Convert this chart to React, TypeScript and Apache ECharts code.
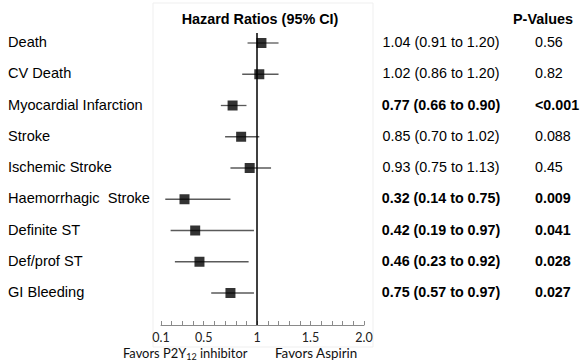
import React, { useEffect, useRef } from "react";
import * as echarts from "echarts";

const categories = [
  "Death",
  "CV Death",
  "Myocardial Infarction",
  "Stroke",
  "Ischemic Stroke",
  "Haemorrhagic  Stroke",
  "Definite ST",
  "Def/prof ST",
  "GI Bleeding",
];
const hazardRatios = [1.04, 1.02, 0.77, 0.85, 0.93, 0.32, 0.42, 0.46, 0.75];
const ciLower = [0.91, 0.86, 0.66, 0.7, 0.75, 0.14, 0.19, 0.23, 0.57];
const ciUpper = [1.2, 1.2, 0.9, 1.02, 1.13, 0.75, 0.97, 0.92, 0.97];
const pValues = ["0.56", "0.82", "<0.001", "0.088", "0.45", "0.009", "0.041", "0.028", "0.027"];
const significant = [false, false, true, false, false, true, true, true, true];
const tickLabels: Record<number, string> = { 1: "0.1", 5: "0.5", 10: "1", 15: "1.5", 20: "2.0" };

const hrStrings = hazardRatios.map(
  (v, i) => `${v.toFixed(2)} (${ciLower[i].toFixed(2)} to ${ciUpper[i].toFixed(2)})`
);

const SANS = "'Liberation Sans', Arial, sans-serif";
const CAL = "Lato, 'Open Sans', sans-serif";

export default function App() {
  const ref = useRef<HTMLDivElement>(null);
  useEffect(() => {
    if (!ref.current) return;
    const chart = echarts.init(ref.current, null, { renderer: "svg" });
    const GL = 161;
    const GR = 222;
    const option: any = {
      animation: false,
      backgroundColor: "#ffffff",
      grid: [
        { left: GL, right: GR, top: 33, bottom: 38 },
        { left: GL, right: GR, top: 26.5, height: 281.25 },
      ],
      xAxis: [
        {
          type: "value",
          gridIndex: 0,
          min: 0.1,
          max: 2.0,
          interval: 0.1,
          splitLine: { show: false },
          axisLine: { show: true, onZero: false, lineStyle: { color: "#8a8a8a", width: 1 } },
          axisTick: { show: true, inside: true, length: 4, lineStyle: { color: "#8a8a8a" } },
          axisLabel: {
            color: "#222",
            fontFamily: CAL,
            fontSize: 12.5,
            margin: 6,
            showMinLabel: true,
            showMaxLabel: true,
            formatter: (v: number) => tickLabels[Math.round(v * 10)] ?? "",
          },
        },
        { type: "value", gridIndex: 1, show: false, min: 0, max: 1 },
      ],
      yAxis: [
        {
          type: "value",
          gridIndex: 0,
          inverse: true,
          min: -0.32,
          max: 9.024,
          show: false,
        },
        {
          type: "category",
          gridIndex: 1,
          inverse: true,
          position: "left",
          data: categories,
          axisLine: { show: false },
          axisTick: { show: false },
          axisLabel: {
            align: "left",
            margin: GL - 8,
            color: "#000",
            fontFamily: SANS,
            fontSize: 14.6,
          },
        },
        {
          type: "category",
          gridIndex: 1,
          inverse: true,
          position: "right",
          offset: 0,
          data: hrStrings,
          axisLine: { show: false },
          axisTick: { show: false },
          axisLabel: {
            align: "center",
            margin: 77,
            color: "#000",
            fontFamily: SANS,
            fontSize: 14.3,
            formatter: (v: string, i: number) => (significant[i] ? `{b|${v}}` : `{n|${v}}`),
            rich: {
              b: { fontWeight: "bold", fontFamily: SANS, fontSize: 14.3, color: "#000" },
              n: { fontFamily: SANS, fontSize: 14.3, color: "#000" },
            },
          },
        },
        {
          type: "category",
          gridIndex: 1,
          inverse: true,
          position: "right",
          offset: 0,
          data: pValues,
          axisLine: { show: false },
          axisTick: { show: false },
          axisLabel: {
            align: "left",
            margin: 171,
            color: "#000",
            fontFamily: SANS,
            fontSize: 14.3,
            formatter: (v: string, i: number) => (significant[i] ? `{b|${v}}` : `{n|${v}}`),
            rich: {
              b: { fontWeight: "bold", fontFamily: SANS, fontSize: 14.3, color: "#000" },
              n: { fontFamily: SANS, fontSize: 14.3, color: "#000" },
            },
          },
        },
      ],
      series: [
        {
          type: "custom",
          xAxisIndex: 0,
          yAxisIndex: 0,
          silent: true,
          encode: { x: [0, 1], y: 2 },
          data: ciLower.map((lo, i) => [lo, ciUpper[i], i]),
          renderItem: (params: any, api: any) => {
            const a = api.coord([api.value(0), api.value(2)]);
            const b = api.coord([api.value(1), api.value(2)]);
            return {
              type: "line",
              shape: { x1: a[0], y1: a[1], x2: b[0], y2: b[1] },
              style: { stroke: "#5a5a5a", lineWidth: 1.3 },
            };
          },
          z: 2,
        },
        {
          type: "scatter",
          xAxisIndex: 0,
          yAxisIndex: 0,
          symbol: "rect",
          symbolSize: 10,
          itemStyle: { color: "#000" },
          data: hazardRatios.map((v, i) => [v, i]),
          z: 3,
          markLine: {
            silent: true,
            symbol: "none",
            label: { show: false },
            lineStyle: { color: "#000", width: 1.5, type: "solid" },
            data: [{ xAxis: 1 }],
          },
        },
        {
          type: "scatter",
          xAxisIndex: 1,
          yAxisIndex: 1,
          data: [],
        },
      ],
      graphic: [
        {
          type: "rect",
          shape: { x: 153, y: 3, width: 220, height: 344 },
          style: { fill: "none", stroke: "#efefef", lineWidth: 1 },
          silent: true,
          z: -10,
        },
        {
          type: "text",
          x: 260,
          y: 19,
          style: {
            text: "Hazard Ratios (95% CI)",
            fontFamily: SANS,
            fontWeight: "bold",
            fontSize: 14.4,
            fill: "#000",
            align: "center",
            verticalAlign: "middle",
          },
        },
        {
          type: "text",
          x: 543,
          y: 19,
          style: {
            text: "P-Values",
            fontFamily: SANS,
            fontWeight: "bold",
            fontSize: 14.4,
            fill: "#000",
            align: "center",
            verticalAlign: "middle",
          },
        },
        {
          type: "text",
          x: 123,
          y: 353,
          style: {
            text: "Favors P2Y{sub|12} inhibitor",
            fontFamily: CAL,
            fontSize: 12.9,
            fill: "#111",
            align: "left",
            verticalAlign: "middle",
            rich: {
              sub: { fontFamily: CAL, fontSize: 9, fill: "#111", padding: [7, 0, 0, 0] },
            },
          },
        },
        {
          type: "text",
          x: 275,
          y: 353,
          style: {
            text: "Favors Aspirin",
            fontFamily: CAL,
            fontSize: 13.4,
            fill: "#111",
            align: "left",
            verticalAlign: "middle",
          },
        },
      ],
    };
    chart.setOption(option);
    return () => chart.dispose();
  }, []);
  return (
    <div
      ref={ref}
      style={{ position: "fixed", left: 0, top: 0, width: 586, height: 363, background: "#fff" }}
    />
  );
}
